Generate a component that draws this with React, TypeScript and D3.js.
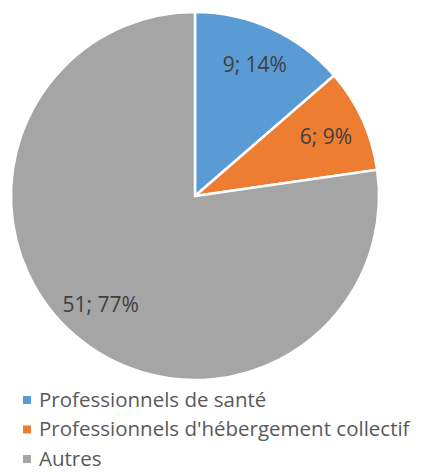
import React from 'react';
import * as d3 from 'd3';

const categories = ['Professionnels de santé', "Professionnels d'hébergement collectif", 'Autres'];
const values = [9, 6, 51];
const colors = ['#5B9BD5', '#ED7D31', '#A5A5A5'];

const width = 421;
const height = 472;
const cx = 195;
const cy = 196;
const radius = 184;
const labelRadius = 144;

export default function App() {
  const total = d3.sum(values);
  const pie = d3.pie<number>().sort(null).value(d => d);
  const arcs = pie(values);
  const arc = d3.arc<d3.PieArcDatum<number>>().innerRadius(0).outerRadius(radius);
  const labelArc = d3.arc<d3.PieArcDatum<number>>().innerRadius(labelRadius).outerRadius(labelRadius);

  return (
    <svg width={width} height={height} style={{ position: 'absolute', left: 0, top: 0 }}
      fontFamily="'Open Sans', 'Noto Sans', sans-serif">
      <g transform={`translate(${cx},${cy})`}>
        {arcs.map((a, i) => (
          <path key={i} d={arc(a) || ''} fill={colors[i]} stroke="#fff" strokeWidth={2.5} strokeLinejoin="miter" />
        ))}
        {arcs.map((a, i) => {
          const [x, y] = labelArc.centroid(a);
          return (
            <text key={i} x={x} y={y} dy="0.35em" textAnchor="middle" fontSize={21} fill="#404040">
              {`${values[i]}; ${Math.round((values[i] / total) * 100)}%`}
            </text>
          );
        })}
      </g>
      <g>
        {categories.map((c, i) => (
          <g key={i} transform={`translate(23,${400 + i * 29.5})`}>
            <rect x={0} y={-4} width={8} height={8} fill={colors[i]} />
            <text x={16} y={0} dy="0.34em" fontSize={20.5} fill="#595959">{c}</text>
          </g>
        ))}
      </g>
    </svg>
  );
}
